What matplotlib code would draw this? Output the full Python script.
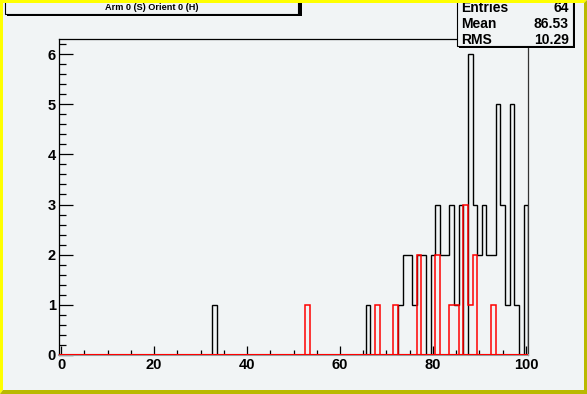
import numpy as np
import matplotlib.pyplot as plt
from matplotlib.patches import Rectangle, Polygon

W, H = 587, 394
BG = '#f1f4f5'

# bin contents, bins centred on integers 0..100
black_bins = [33, 66, 73, 74, 75, 76, 77, 78, 80, 81, 82, 83, 84, 85, 86,
              88, 89, 90, 91, 92, 93, 94, 95, 96, 97, 98, 100]
black_counts = [1, 1, 1, 2, 2, 1, 2, 2, 2, 3, 2, 2, 3, 1, 3,
                6, 3, 2, 3, 2, 2, 5, 3, 1, 5, 1, 3]
red_bins = [53, 68, 72, 77, 81, 84, 85, 87, 88, 89, 93]
red_counts = [1, 1, 1, 2, 2, 1, 1, 3, 1, 2, 1]

x_ticks = [0, 20, 40, 60, 80, 100]
y_ticks = [0, 1, 2, 3, 4, 5, 6]
title = 'Arm 0 (S) Orient 0 (H)'
stats = [('Entries', '64'), ('Mean', '86.53'), ('RMS', '10.29')]

edges = np.arange(-0.5, 101.0, 1.0)
black = np.zeros(101)
black[black_bins] = black_counts
red = np.zeros(101)
red[red_bins] = red_counts


def fx(x):
    return x / W


def fy(y):
    return 1 - y / H


plt.rcParams['font.family'] = ['Liberation Sans', 'DejaVu Sans']
plt.rcParams['font.weight'] = 'bold'

fig = plt.figure(figsize=(W / 100, H / 100), dpi=100, facecolor=BG)
ax = fig.add_axes([0.1, 0.1, 0.8, 0.8])
ax.set_facecolor(BG)

ax.stairs(black, edges, baseline=0, color='black', lw=1.0, zorder=3)
ax.stairs(red, edges, baseline=0, color='red', lw=1.1, zorder=4)
ax.plot([-0.5, 100.5], [0, 0], color='red', lw=1.5, zorder=5,
        solid_capstyle='butt')

ax.set_xlim(-0.5, 100.5)
ax.set_ylim(0, 6.3)

ax.set_xticks(x_ticks)
ax.set_xticks(np.arange(0, 101, 5), minor=True)
ax.set_yticks(y_ticks)
ax.set_yticks(np.arange(0, 6.3, 0.2), minor=True)
ax.tick_params(axis='x', which='major', direction='in', length=6.8,
               width=0.9, labelsize=10.5, pad=2.5, top=False)
ax.tick_params(axis='x', which='minor', direction='in', length=3.4,
               width=0.9, top=False)
ax.tick_params(axis='y', which='major', direction='in', length=10,
               width=0.9, labelsize=10.5, pad=2, right=False)
ax.tick_params(axis='y', which='minor', direction='in', length=5,
               width=0.9, right=False)
for lab in ax.get_xticklabels() + ax.get_yticklabels():
    lab.set_fontweight('bold')

for side in ['left', 'top', 'right']:
    ax.spines[side].set_linewidth(0.9)
ax.spines['bottom'].set_color('#9a9a9a')
ax.spines['bottom'].set_linewidth(1.5)
ax.spines['right'].set_color('#333333')

# canvas bevel border
fig.add_artist(Polygon([(0, 1), (1, 1), (1 - fx(3), fy(3)), (fx(3), fy(3)),
                        (fx(3), fy(H - 4)), (0, 0)],
                       closed=True, transform=fig.transFigure,
                       facecolor='#ffff00', edgecolor='none', zorder=10))
fig.add_artist(Polygon([(1, 1), (1, 0), (0, 0), (fx(3), fy(H - 4)),
                        (1 - fx(3), fy(H - 4)), (1 - fx(3), fy(3))],
                       closed=True, transform=fig.transFigure,
                       facecolor='#b9b900', edgecolor='none', zorder=10))

# title box with shadow
fig.add_artist(Rectangle((fx(7), fy(16)), fx(295), fy(-5) - fy(16),
                         transform=fig.transFigure, facecolor='black',
                         edgecolor='none', zorder=6))
fig.add_artist(Rectangle((fx(5), fy(14)), fx(293), fy(-5) - fy(14),
                         transform=fig.transFigure, facecolor=BG,
                         edgecolor='black', lw=0.8, zorder=7))
fig.text(fx(152), fy(7), title, ha='center', va='center', fontsize=6.6,
         fontweight='bold', zorder=8)

# stats box with shadow
fig.add_artist(Rectangle((fx(459), fy(48)), fx(116), fy(-5) - fy(48),
                         transform=fig.transFigure, facecolor='black',
                         edgecolor='none', zorder=6))
fig.add_artist(Rectangle((fx(457), fy(46)), fx(116), fy(-5) - fy(46),
                         transform=fig.transFigure, facecolor=BG,
                         edgecolor='black', lw=0.8, zorder=7))
for i, (name, val) in enumerate(stats):
    yy = fy(8 + 16 * i)
    fig.text(fx(461), yy, name, ha='left', va='center', fontsize=10,
             fontweight='bold', zorder=8)
    fig.text(fx(569), yy, val, ha='right', va='center', fontsize=10,
             fontweight='bold', zorder=8)

fig.savefig('out.png', dpi=100, facecolor=BG)
